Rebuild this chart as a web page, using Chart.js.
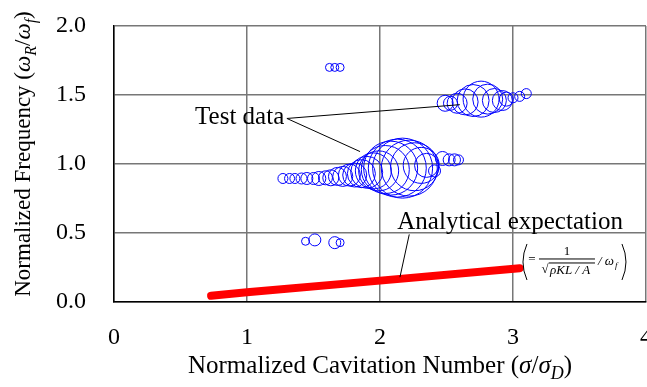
<!DOCTYPE html>
<html>
<head>
<meta charset="utf-8">
<script src="https://cdn.jsdelivr.net/npm/chart.js@4"></script>
<style>
html, body { margin: 0; padding: 0; background: #fff; }
</style>
</head>
<body>
<canvas id="chart" width="647" height="387"></canvas>
<script>
// test data (x = sigma/sigmaD, y = omegaR/omegaf, r = bubble size)
const testX = [1.62, 1.66, 1.70,
    1.44, 1.51, 1.66, 1.70,
    1.27, 1.32, 1.36, 1.41, 1.45, 1.50, 1.54, 1.59, 1.63, 1.68, 1.72, 1.77, 1.81, 1.86, 1.90,
    1.95, 1.99, 2.04, 2.08, 2.13, 2.17, 2.22, 2.26, 2.31, 2.35, 2.41, 2.47, 2.52, 2.56, 2.59,
    2.49, 2.53, 2.58, 2.64, 2.70, 2.76, 2.81, 2.86, 2.92, 2.95, 3.00, 3.05, 3.10];
const testY = [1.70, 1.70, 1.70,
    0.44, 0.45, 0.43, 0.43,
    0.895, 0.895, 0.895, 0.895, 0.895, 0.895, 0.895, 0.90, 0.90, 0.91, 0.91, 0.92, 0.92, 0.93, 0.94,
    0.95, 0.95, 0.96, 0.97, 0.97, 0.97, 0.97, 0.98, 0.99, 0.99, 0.95, 1.04, 1.03, 1.03, 1.03,
    1.44, 1.44, 1.44, 1.45, 1.46, 1.47, 1.47, 1.46, 1.46, 1.47, 1.48, 1.49, 1.51];
const testR = [4, 4, 4,
    4, 6, 6, 4,
    5, 5, 5, 5.5, 6, 6, 7, 7, 8, 9, 10, 11, 12, 14, 16,
    18, 20, 24, 27, 29, 30, 28, 24, 18, 12, 6, 7, 6, 6, 5,
    8, 7, 10, 13, 16, 18, 15, 12, 10, 7, 5, 5, 5];

// analytical expectation
const anaX = [0.73, 1.0, 2.0, 3.05];
const anaY = [0.045, 0.07, 0.155, 0.245];

const xTicks = [0, 1, 2, 3, 4];
const xTickLabels = ['0', '1', '2', '3', '4'];
const yTicks = [0, 0.5, 1.0, 1.5, 2.0];
const yTickLabels = ['0.0', '0.5', '1.0', '1.5', '2.0'];

const FONT = 'Liberation Serif';

function drawParts(ctx, parts, x, y, size) {
    // parts: [text, style]  style: '' normal, 'i' italic, 's' italic subscript
    function setFont(st) {
        if (st === 's') ctx.font = 'italic ' + Math.round(size * 0.7) + 'px "' + FONT + '"';
        else if (st === 'i') ctx.font = 'italic ' + size + 'px "' + FONT + '"';
        else ctx.font = size + 'px "' + FONT + '"';
    }
    let total = 0;
    parts.forEach(p => { setFont(p[1]); total += ctx.measureText(p[0]).width; });
    let cx = x - total / 2;
    ctx.textAlign = 'left';
    ctx.textBaseline = 'alphabetic';
    parts.forEach(p => {
        setFont(p[1]);
        let dy = p[1] === 's' ? size * 0.25 : 0;
        ctx.fillText(p[0], cx, y + dy);
        cx += ctx.measureText(p[0]).width;
    });
}

const extras = {
    id: 'extras',
    afterDraw(chart) {
        const ctx = chart.ctx;
        const xs = chart.scales.x, ys = chart.scales.y;
        const px = v => xs.getPixelForValue(v);
        const py = v => ys.getPixelForValue(v);
        ctx.save();
        ctx.fillStyle = '#000';
        ctx.strokeStyle = '#000';

        // axis titles
        drawParts(ctx, [['Normalized Cavitation Number (', ''], ['σ', 'i'], ['/', ''], ['σ', 'i'], ['D', 's'], [')', '']],
            (chart.chartArea.left + chart.chartArea.right) / 2, 373, 25);
        ctx.save();
        ctx.translate(30, 154);
        ctx.rotate(-Math.PI / 2);
        drawParts(ctx, [['Normalized Frequency (', ''], ['ω', 'i'], ['R', 's'], ['/', ''], ['ω', 'i'], ['f', 's'], [')', '']], 0, 0, 23);
        ctx.restore();

        // Test data label
        ctx.font = '25px "' + FONT + '"';
        ctx.textAlign = 'right';
        ctx.textBaseline = 'middle';
        ctx.fillText('Test data', px(1.28), py(1.34));
        ctx.lineWidth = 1;
        ctx.beginPath();
        ctx.moveTo(px(1.30), py(1.33));
        ctx.lineTo(px(2.60), py(1.43));
        ctx.moveTo(px(1.30), py(1.33));
        ctx.lineTo(px(1.85), py(1.09));
        ctx.stroke();

        // Analytical expectation label
        ctx.textAlign = 'left';
        ctx.fillText('Analytical expectation', px(2.13), py(0.58));
        ctx.beginPath();
        ctx.moveTo(px(2.22), py(0.49));
        ctx.lineTo(px(2.15), py(0.18));
        ctx.stroke();

        // formula
        const fx = px(3.06), fy = py(0.29);
        ctx.lineWidth = 1;
        ctx.beginPath();
        ctx.moveTo(fx + 6, fy - 18);
        ctx.quadraticCurveTo(fx - 2, fy, fx + 6, fy + 18);
        ctx.moveTo(fx + 101, fy - 18);
        ctx.quadraticCurveTo(fx + 109, fy, fx + 101, fy + 18);
        ctx.stroke();
        ctx.font = '13px "' + FONT + '"';
        ctx.textAlign = 'center';
        ctx.fillText('=', fx + 11, fy - 2);
        ctx.fillText('1', fx + 46, fy - 10);
        ctx.beginPath();
        ctx.moveTo(fx + 18, fy - 3);
        ctx.lineTo(fx + 74, fy - 3);
        ctx.stroke();
        ctx.fillText('√', fx + 24, fy + 8);
        ctx.beginPath();
        ctx.moveTo(fx + 28, fy + 1);
        ctx.lineTo(fx + 74, fy + 1);
        ctx.stroke();
        ctx.font = 'italic 13px "' + FONT + '"';
        ctx.textAlign = 'left';
        ctx.fillText('ρKL / A', fx + 29, fy + 9);
        ctx.fillText('/ ω', fx + 77, fy);
        ctx.font = 'italic 9px "' + FONT + '"';
        ctx.fillText('f', fx + 94, fy + 4);
        ctx.restore();
    }
};

const ctx = document.getElementById('chart').getContext('2d');
const chart = new Chart(ctx, {
    type: 'bubble',
    data: {
        datasets: [{
            label: 'Test data',
            data: testX.map((x, i) => ({ x: x, y: testY[i], r: testR[i] })),
            borderColor: '#0000ff',
            backgroundColor: 'rgba(0,0,0,0)',
            borderWidth: 1,
            hoverRadius: 0
        }, {
            type: 'line',
            label: 'Analytical expectation',
            data: anaX.map((x, i) => ({ x: x, y: anaY[i] })),
            borderColor: '#ff0000',
            borderWidth: 8,
            borderCapStyle: 'round',
            pointRadius: 0,
            fill: false
        }]
    },
    options: {
        responsive: false,
        animation: false,
        devicePixelRatio: 1,
        layout: { autoPadding: false, padding: { top: 26, right: 1, left: 0, bottom: 0 } },
        plugins: { legend: { display: false }, tooltip: { enabled: false } },
        scales: {
            x: {
                type: 'linear', min: 0, max: 4,
                afterBuildTicks: s => { s.ticks = xTicks.map(v => ({ value: v })); },
                ticks: {
                    callback: (v, i) => xTickLabels[i],
                    font: { family: FONT, size: 24 }, color: '#000', padding: 21, maxRotation: 0
                },
                grid: { color: '#777', lineWidth: 1.5, drawTicks: false },
                border: { color: '#000', width: 1.5 },
                afterFit: s => { s.height = 85; s.paddingLeft = 0; s.paddingRight = 0; }
            },
            y: {
                min: 0, max: 2,
                afterBuildTicks: s => { s.ticks = yTicks.map(v => ({ value: v })); },
                ticks: {
                    callback: (v, i) => yTickLabels[i],
                    font: { family: FONT, size: 24 }, color: '#000', padding: 28
                },
                grid: { color: '#777', lineWidth: 1.5, drawTicks: false },
                border: { color: '#000', width: 1.5 },
                afterFit: s => { s.width = 114; s.paddingTop = 0; s.paddingBottom = 0; }
            }
        }
    },
    plugins: [extras]
});
</script>
</body>
</html>
